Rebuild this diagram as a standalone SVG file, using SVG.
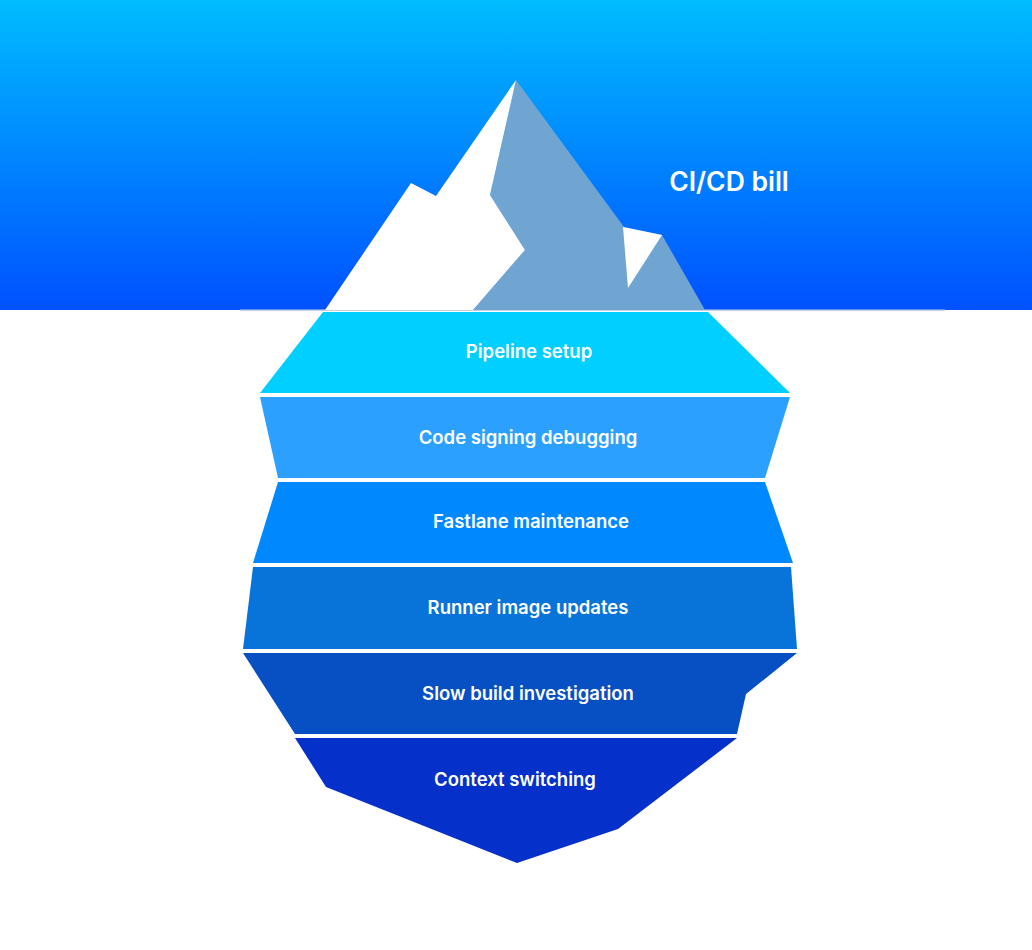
<svg xmlns="http://www.w3.org/2000/svg" width="1032" height="950" viewBox="0 0 1032 950">
<style>
text{font-family:"Inter","Liberation Sans",sans-serif;font-weight:600;fill:#fff;text-anchor:middle}
.l{font-size:18.5px}
.t{font-size:26.5px}
</style>
<defs>
<linearGradient id="sky" x1="0" y1="0" x2="0" y2="1"><stop offset="0" stop-color="#00bcff"/><stop offset="1" stop-color="#0051ff"/></linearGradient>
</defs>
<rect width="1032" height="950" fill="#fff"/>
<rect width="1032" height="310" fill="url(#sky)"/>
<rect x="240" y="309.500" width="705" height="1.500" fill="#c4cfe8"/>
<g id="peak">
<polygon points="516,80 624,227 662,235 705,310 473,310 525,250 490,195" fill="#70a5d2"/>
<polygon points="516,80 490,195 525,250 473,310 325,310 411,183 436,196" fill="#fff"/>
<polygon points="623,227 662,235 628,288" fill="#fff"/>
</g>
<text x="729" y="191" class="t">CI/CD bill</text>
<g id="layer1"><polygon points="323,312 708,312 790,393 260,393" fill="#00cfff"/><text x="529" y="358" class="l">Pipeline setup</text></g>
<g id="layer2"><polygon points="260,397 790,397 765,478 278,478" fill="#2ca0ff"/><text x="528" y="444" class="l">Code signing debugging</text></g>
<g id="layer3"><polygon points="278,482 765,482 793,563 253,563" fill="#0088ff"/><text x="531" y="528" class="l">Fastlane maintenance</text></g>
<g id="layer4"><polygon points="253,567 791,567 797,649 243,649" fill="#0874d9"/><text x="528" y="614" class="l">Runner image updates</text></g>
<g id="layer5"><polygon points="243,653 797,653 746,694 737,734 295,734" fill="#0650c4"/><text x="528" y="700" class="l">Slow build investigation</text></g>
<g id="layer6"><polygon points="295,738 737,738 618,829 517,863 326,787" fill="#0530ca"/><text x="515" y="786" class="l">Context switching</text></g>
<g id="connectors"></g>
</svg>
